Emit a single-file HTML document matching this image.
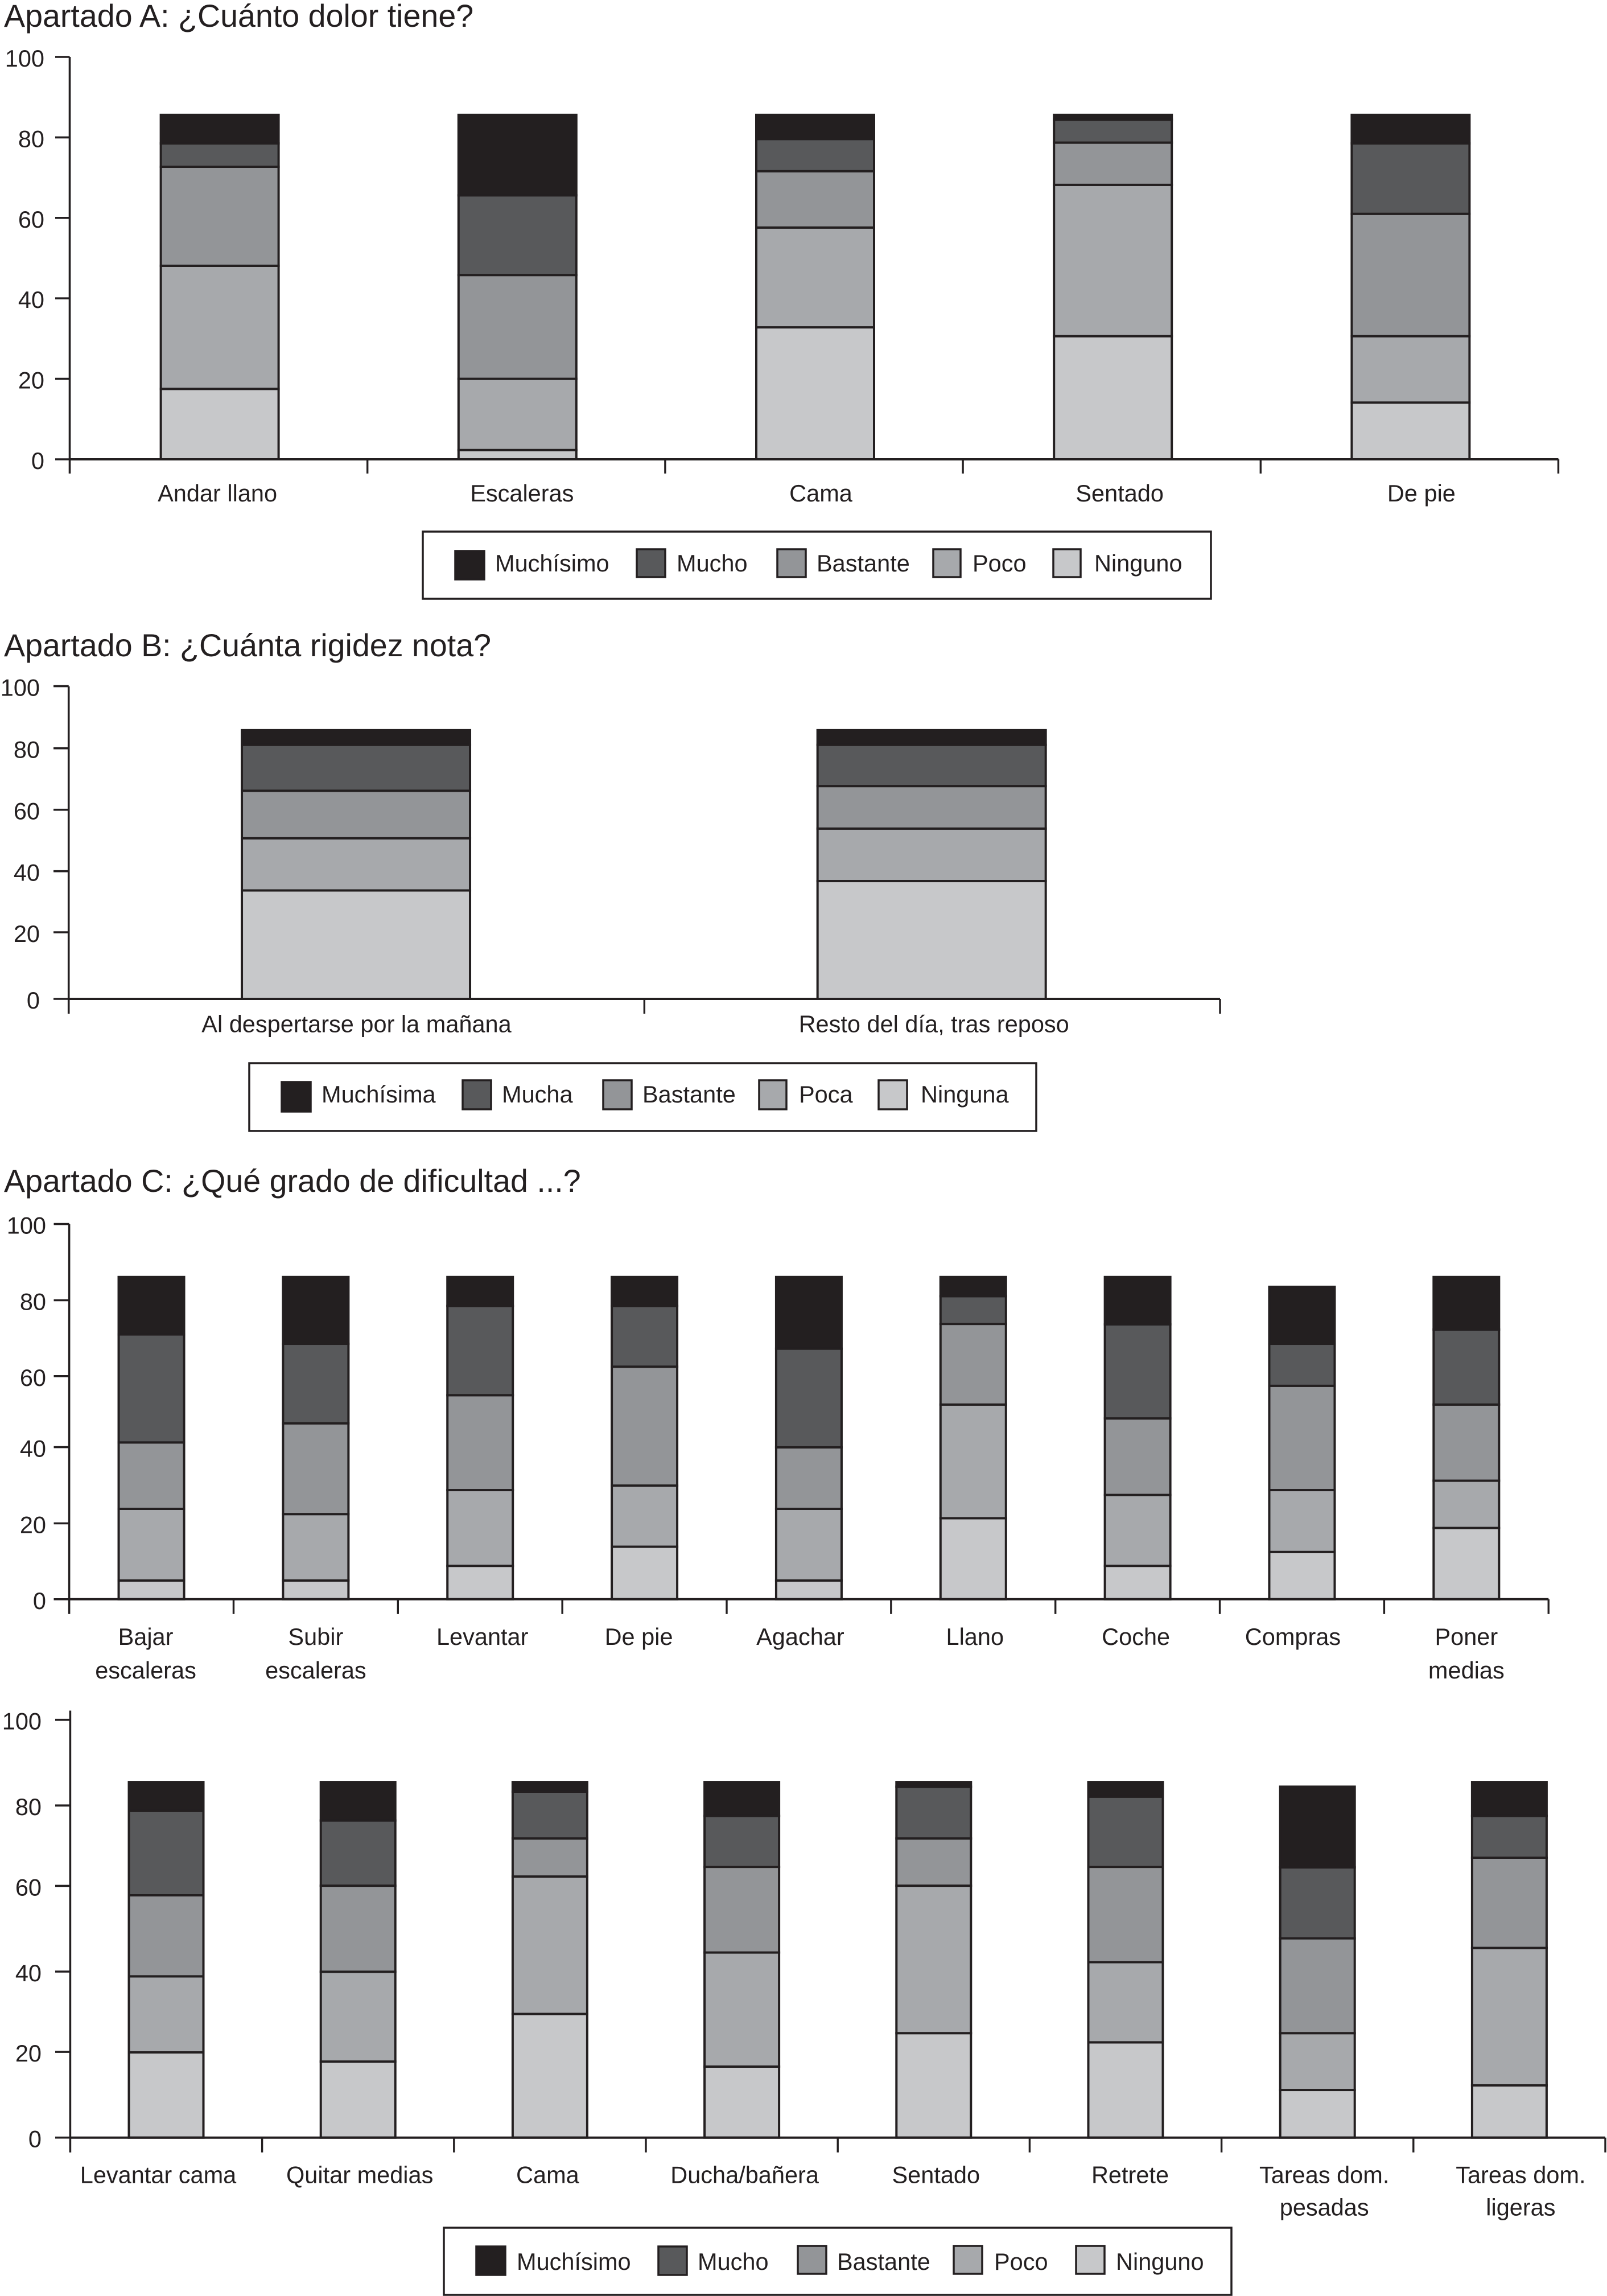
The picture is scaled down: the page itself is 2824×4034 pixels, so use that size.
<!DOCTYPE html>
<html lang="es">
<head>
<meta charset="utf-8">
<title>Apartados A, B y C</title>
<style>
html,body{margin:0;padding:0;background:#fff;}
svg{display:block;}
text{font-family:"Liberation Sans",sans-serif;fill:#231f20;}
.title{font-size:55.6px;}
.lab{font-size:41.5px;}
.frame{fill:#fff;stroke:#231f20;stroke-width:3.5;}
.sw{stroke:#231f20;stroke-width:3.5;}
.c0{fill:#231f20}.c1{fill:#58595b}.c2{fill:#939598}.c3{fill:#a7a9ac}.c4{fill:#c7c8ca}
</style>
</head>
<body>
<svg id="figure" xmlns="http://www.w3.org/2000/svg" width="2824" height="4034" viewBox="0 0 2824 4034">
  <rect x="0" y="0" width="2824" height="4034" fill="#fff"/>

  <text class="title" x="7" y="47">Apartado A: ¿Cuánto dolor tiene?</text>
  <text class="title" x="7" y="1153">Apartado B: ¿Cuánta rigidez nota?</text>
  <text class="title" x="7" y="2094">Apartado C: ¿Qué grado de dificultad ...?</text>

  <g>
    <rect class="frame" x="743" y="934" width="1385" height="118"/>
    <rect class="sw c0" x="800" y="968" width="51" height="50"/>
    <text class="lab" x="870" y="1004">Muchísimo</text>
    <rect class="sw c1" x="1119" y="965" width="50" height="49"/>
    <text class="lab" x="1189" y="1004">Mucho</text>
    <rect class="sw c2" x="1366" y="965" width="50" height="49"/>
    <text class="lab" x="1435" y="1004">Bastante</text>
    <rect class="sw c3" x="1640" y="965" width="48" height="49"/>
    <text class="lab" x="1709" y="1004">Poco</text>
    <rect class="sw c4" x="1851" y="965" width="48" height="49"/>
    <text class="lab" x="1923" y="1004">Ninguno</text>
  </g>

  <g>
    <rect class="frame" x="438" y="1868" width="1383" height="119"/>
    <rect class="sw c0" x="495" y="1901" width="51" height="52"/>
    <text class="lab" x="565" y="1937">Muchísima</text>
    <rect class="sw c1" x="813" y="1898" width="50" height="51"/>
    <text class="lab" x="882" y="1937">Mucha</text>
    <rect class="sw c2" x="1060" y="1898" width="50" height="51"/>
    <text class="lab" x="1129" y="1937">Bastante</text>
    <rect class="sw c3" x="1334" y="1898" width="48" height="51"/>
    <text class="lab" x="1404" y="1937">Poca</text>
    <rect class="sw c4" x="1544" y="1898" width="50" height="51"/>
    <text class="lab" x="1618" y="1937">Ninguna</text>
  </g>

  <g>
    <rect class="frame" x="780" y="3914" width="1384" height="118"/>
    <rect class="sw c0" x="837" y="3947" width="51" height="50"/>
    <text class="lab" x="908" y="3988">Muchísimo</text>
    <rect class="sw c1" x="1157" y="3947" width="50" height="50"/>
    <text class="lab" x="1226" y="3988">Mucho</text>
    <rect class="sw c2" x="1402" y="3946" width="50" height="49"/>
    <text class="lab" x="1471" y="3988">Bastante</text>
    <rect class="sw c3" x="1676" y="3946" width="50" height="49"/>
    <text class="lab" x="1747" y="3988">Poco</text>
    <rect class="sw c4" x="1891" y="3946" width="50" height="49"/>
    <text class="lab" x="1961" y="3988">Ninguno</text>
  </g>
</svg>

<script>
// ---- Shared axis ticks ----
const yTickValues = [0, 20, 40, 60, 80, 100];

// ---- Chart A: ¿Cuánto dolor tiene? ----
const categoriesA = ['Andar llano', 'Escaleras', 'Cama', 'Sentado', 'De pie'];
const ningunoA    = [17.5,  2.3, 32.8, 30.6, 14.1];
const pocoA       = [30.6, 17.7, 24.8, 37.6, 16.5];
const bastanteA   = [24.6, 25.8, 14.0, 10.5, 30.4];
const muchoA      = [ 5.8, 19.8,  8.0,  5.7, 17.5];
const muchisimoA  = [ 7.1, 20.0,  6.0,  1.2,  7.1];

// ---- Chart B: ¿Cuánta rigidez nota? ----
const categoriesB = ['Al despertarse por la mañana', 'Resto del día, tras reposo'];
const ningunoB    = [34.7, 37.7];
const pocoB       = [16.7, 16.8];
const bastanteB   = [15.2, 13.6];
const muchoB      = [14.7, 13.2];
const muchisimoB  = [ 4.7,  4.7];

// ---- Chart C, upper panel ----
const categoriesC1 = ['Bajar|escaleras', 'Subir|escaleras', 'Levantar', 'De pie', 'Agachar', 'Llano', 'Coche', 'Compras', 'Poner|medias'];
const ningunoC1    = [ 5.0,  5.0,  8.9, 14.0,  5.0, 21.6,  8.9, 12.6, 19.0];
const pocoC1       = [19.1, 17.7, 20.2, 16.3, 19.1, 30.3, 18.9, 16.5, 12.6];
const bastanteC1   = [17.7, 24.2, 25.3, 31.7, 16.4, 21.5, 20.4, 27.8, 20.3];
const muchoC1      = [28.8, 21.2, 23.8, 16.2, 26.3,  7.4, 25.1, 11.2, 20.0];
const muchisimoC1  = [15.3, 17.8,  7.7,  7.7, 19.1,  5.1, 12.6, 15.2, 14.0];

// ---- Chart C, lower panel ----
const categoriesC2 = ['Levantar cama', 'Quitar medias', 'Cama', 'Ducha/bañera', 'Sentado', 'Retrete', 'Tareas dom.|pesadas', 'Tareas dom.|ligeras'];
const ningunoC2    = [20.4, 18.2, 29.6, 17.0, 25.0, 22.8, 11.4, 12.5];
const pocoC2       = [18.2, 21.5, 32.9, 27.3, 35.3, 19.2, 13.6, 32.9];
const bastanteC2   = [19.4, 20.6,  9.1, 20.5, 11.3, 22.8, 22.7, 21.6];
const muchoC2      = [20.2, 15.6, 11.2, 12.2, 12.4, 16.8, 17.0, 10.0];
const muchisimoC2  = [ 6.9,  9.2,  2.3,  8.1,  1.1,  3.5, 19.3,  8.1];

// Stack order, bottom to top: ninguno, poco, bastante, mucho, muchísimo
const SVG_NS = 'http://www.w3.org/2000/svg';
const INK = '#231f20';
const STACK_FILLS = ['#c7c8ca', '#a7a9ac', '#939598', '#58595b', '#231f20'];
const figure = document.getElementById('figure');

function make(tag, parent, attrs) {
  const node = document.createElementNS(SVG_NS, tag);
  for (const key in attrs) node.setAttribute(key, attrs[key]);
  parent.appendChild(node);
  return node;
}

function drawChart(layout, categories, stacks) {
  const xBand = i => layout.axisX + layout.bandWidth * i;
  const xCenter = i => xBand(i) + layout.bandWidth / 2;
  const yScale = v => layout.zeroY - v * layout.unitY;
  const barStroke = 4;
  const axisRight = xBand(categories.length);

  const chart = make('g', figure, {});
  
  

  // bars
  categories.forEach((cat, i) => {
    let base = 0;
    stacks.forEach((series, s) => {
      const top = base + series[i];
      const seg = make('rect', chart, {
        x: xCenter(i) + layout.barShift - layout.barWidth / 2 + barStroke / 2,
        y: yScale(top),
        width: layout.barWidth - barStroke,
        height: yScale(base) - yScale(top),
        fill: STACK_FILLS[s],
        stroke: INK,
        'stroke-width': barStroke
      });
      
      
      base = top;
    });
  });

  // y axis
  const yAxis = make('line', chart, {
    x1: layout.axisX, x2: layout.axisX,
    y1: layout.axisTop !== undefined ? layout.axisTop : yScale(100),
    y2: yScale(0) + layout.tickDown,
    stroke: INK, 'stroke-width': 3.6
  });
  
  

  yTickValues.forEach((v, t) => {
    const tickY = yScale(v) + layout.yTickNudge[t];
    const tick = make('line', chart, {
      x1: layout.tickLeft, x2: layout.axisX,
      y1: tickY, y2: tickY,
      stroke: INK, 'stroke-width': 3.6
    });
    
    

    const label = make('text', chart, {
      x: layout.labelRight, y: tickY + 17,
      'text-anchor': 'end', 'font-size': '41.5'
    });
    label.textContent = String(v);
    
    
  });

  // x axis
  const xAxis = make('line', chart, {
    x1: layout.axisX, x2: axisRight,
    y1: yScale(0), y2: yScale(0),
    stroke: INK, 'stroke-width': 4
  });
  
  

  for (let i = 1; i <= categories.length; i++) {
    const tick = make('line', chart, {
      x1: xBand(i), x2: xBand(i),
      y1: yScale(0), y2: yScale(0) + layout.tickDown,
      stroke: INK, 'stroke-width': 3.4
    });
    
    
  }

  // category labels
  categories.forEach((cat, i) => {
    cat.split('|').forEach((line, n) => {
      const label = make('text', chart, {
        x: xCenter(i) + layout.labelNudge[i],
        y: layout.labelY + n * layout.lineGap,
        'text-anchor': 'middle', 'font-size': '41.5'
      });
      label.textContent = line;
      
      
    });
  });
}

drawChart(
  { axisX: 122.5, bandWidth: 523.2, zeroY: 807, unitY: 7.07, barWidth: 211, barShift: 2, tickLeft: 97, labelRight: 78,
    tickDown: 25, labelY: 881, lineGap: 58, yTickNudge: [0, 0, 0, 0, 0, 0], labelNudge: [-2, 10, 12, 14, 21] },
  categoriesA, [ningunoA, pocoA, bastanteA, muchoA, muchisimoA]
);
drawChart(
  { axisX: 120.7, bandWidth: 1011.65, zeroY: 1755, unitY: 5.49, barWidth: 405, barShift: -1, tickLeft: 94, labelRight: 70,
    tickDown: 26, labelY: 1813.5, lineGap: 58, yTickNudge: [0, -7.2, -4.7, -2.9, -1.1, -0.4], labelNudge: [0, 3] },
  categoriesB, [ningunoB, pocoB, bastanteB, muchoB, muchisimoB]
);
drawChart(
  { axisX: 121.6, bandWidth: 288.85, zeroY: 2809.8, unitY: 6.59, barWidth: 119, barShift: 0, tickLeft: 94.5, labelRight: 81,
    tickDown: 26, labelY: 2890, lineGap: 59, yTickNudge: [0, -1.5, -3.6, 3.4, 1.9, -0.2], labelNudge: [-10, 0, 4, -10, -15, 3, -3, -16, 0] },
  categoriesC1, [ningunoC1, pocoC1, bastanteC1, muchoC1, muchisimoC1]
);
drawChart(
  { axisX: 123.4, bandWidth: 337.2, zeroY: 3755.7, unitY: 7.34, barWidth: 135, barShift: 0, tickLeft: 97, labelRight: 73,
    tickDown: 26, labelY: 3835.7, lineGap: 57, axisTop: 3005.5, yTickNudge: [0, -3.8, 1.9, -1.9, 3.7, 0], labelNudge: [-14, 3, -4, 5, 4, 8, 12, 20] },
  categoriesC2, [ningunoC2, pocoC2, bastanteC2, muchoC2, muchisimoC2]
);
</script>
</body>
</html>
